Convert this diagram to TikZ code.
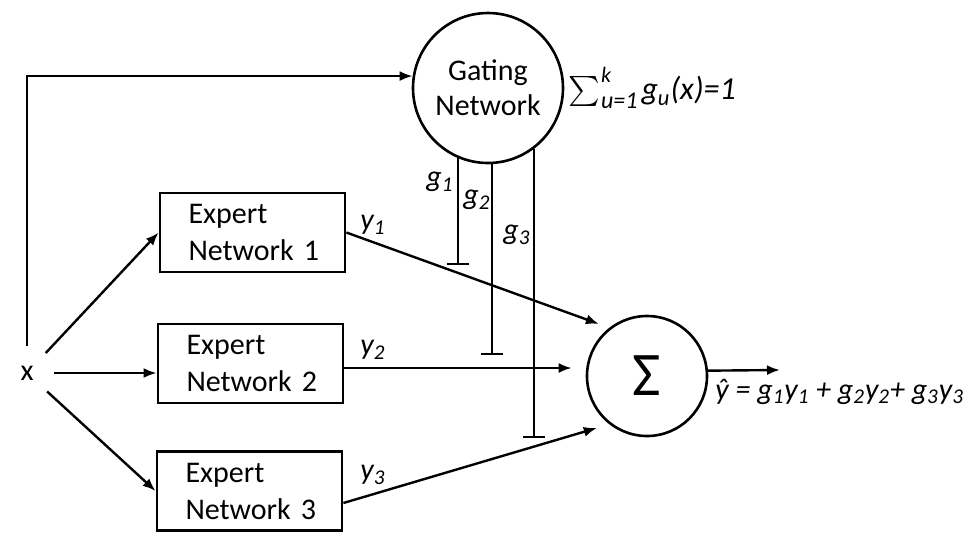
\documentclass[tikz,border=0pt]{standalone}
\usepackage{fontspec}
\setmainfont{Carlito}
\usetikzlibrary{arrows.meta}
\newcommand{\ind}{\hspace*{4pt}}
\begin{document}
\begin{tikzpicture}[x=0.5pt,y=-0.5pt,
  box/.style={draw, line width=1.4pt, minimum height=39.5pt, text width=72pt,
    inner xsep=10.25pt, align=left, font=\fontsize{15}{18.5}\selectfont},
  circ/.style={draw, circle, line width=1.3pt, inner sep=0pt},
  arr/.style={line width=1.2pt, -{Latex[length=6.5pt,width=5pt]}},
  tbar/.style={line width=1.2pt, -{Bar[width=11pt]}},
  lab/.style={inner sep=1pt, font=\fontsize{15}{18}\selectfont\itshape}]
\useasboundingbox (0,0) rectangle (980,532);

% nodes
\node[box] (e1) at (252.5,232.5) {\ind Expert\\\ind Network 1};
\node[box] (e2) at (250.5,363.5) {\ind Expert\\\ind Network 2};
\node[box] (e3) at (249.5,491) {\ind Expert\\\ind Network 3};
\node[circ, minimum size=75pt, align=center, font=\fontsize{15}{17.5}\selectfont] (gate) at (488,88) {Gating\\Network};
\node[circ, minimum size=60pt, font=\fontsize{31}{31}\selectfont] (sum) at (647,376) {Σ};
\node[circle, minimum size=27pt, inner sep=0pt, font=\fontsize{15}{18}\selectfont] (x) at (27,373) {x};
\coordinate (yout) at (780,370);

% input connectors
\draw[arr] (x.north) |- (gate.171.6);
\draw[arr] (x) -- (e1.west);
\draw[arr] (x) -- (x -| e2.west);
\draw[arr] (x) -- (e3.west);

% expert outputs
\draw[arr, shorten >=5.5pt] (e1.east) -- (sum.128);
\draw[arr, shorten >=7pt] ([yshift=-2.25pt]e2.east) -- ([yshift=-2.25pt]e2.east -| sum.west);
\draw[arr, shorten >=6.5pt] ([yshift=-6pt]e3.east) -- (sum.232.5);
\draw[arr] (sum.5.7) -- (yout);

% gating lines
\draw[tbar] (gate.247.3) -- ++(0,107);
\draw[tbar] (gate.273.8) -- ++(0,191);
\draw[tbar] (gate.307.8) -- ++(0,289);

% labels
\node[lab] (g1) at (440,182) {g\textsubscript{1}};
\node[lab] (g2) at (477,200) {g\textsubscript{2}};
\node[lab] (g3) at (517,235) {g\textsubscript{3}};
\node[lab] (y1) at (373,225) {y\textsubscript{1}};
\node[lab] (y2) at (373,350) {y\textsubscript{2}};
\node[lab] (y3) at (373,475) {y\textsubscript{3}};
\node[lab, anchor=west] (norm) at (566,88) {\raisebox{-0.2ex}{\scalebox{1.5}{$\sum$}}\kern0.5pt\makebox[0pt][l]{\raisebox{1.2ex}{\fontsize{11}{11}\selectfont k}}\raisebox{-0.6ex}{\fontsize{12}{12}\selectfont u=1}\kern2pt\fontsize{16}{18}\selectfont g\textsubscript{u}(x)=1};
\node[lab, anchor=base west] (yhat) at (713,399) {\^{y} = g\textsubscript{1}y\textsubscript{1} + g\textsubscript{2}y\textsubscript{2}+ g\textsubscript{3}y\textsubscript{3}};
\end{tikzpicture}
\end{document}
